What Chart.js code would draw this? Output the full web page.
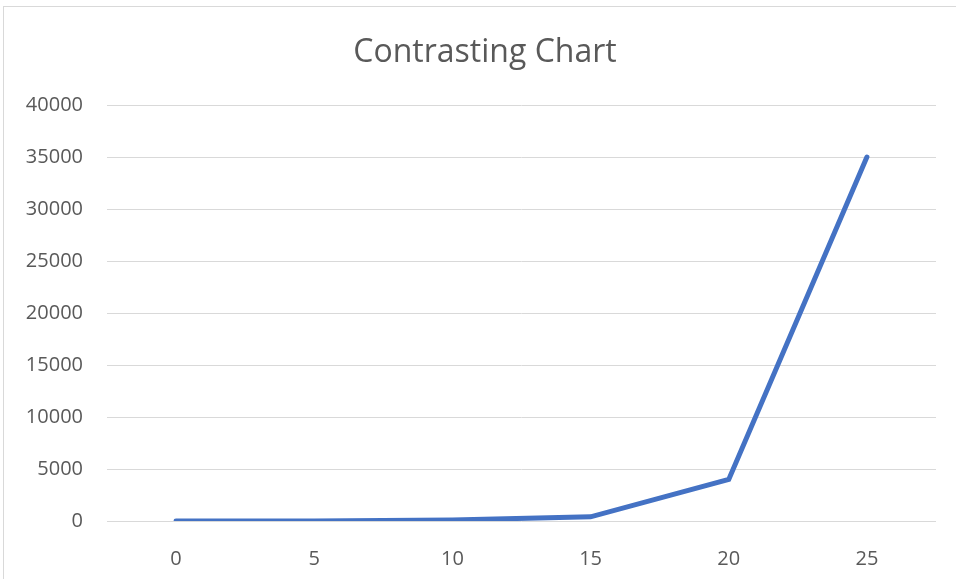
<!DOCTYPE html>
<html>
<head>
<meta charset="utf-8">
<script src="https://cdn.jsdelivr.net/npm/chart.js@4.4.1/dist/chart.umd.min.js"></script>
<style>
  html, body { margin: 0; padding: 0; background: #fff; }
  body { width: 956px; height: 579px; position: relative; overflow: hidden; }
  #frame { position: absolute; left: 3px; top: 6px; width: 960px; height: 580px; border: 1px solid #d9d9d9; box-sizing: border-box; }
  #c { position: absolute; left: 0; top: 0; }
</style>
</head>
<body>
<div id="frame"></div>
<canvas id="c" width="956" height="579"></canvas>
<script>
const categories = ["0", "5", "10", "15", "20", "25"];
const seriesValues = [0, 10, 100, 400, 4000, 35000];
const yTickValues = [0, 5000, 10000, 15000, 20000, 25000, 30000, 35000, 40000];
const chartTitle = "Contrasting Chart";

const FONT = "'Open Sans', 'Noto Sans', sans-serif";
const TEXT = "#595959";

new Chart(document.getElementById('c'), {
  type: 'line',
  data: {
    labels: categories,
    datasets: [{
      data: seriesValues,
      borderColor: '#4472C4',
      backgroundColor: '#4472C4',
      borderWidth: 5,
      pointRadius: 0,
      tension: 0,
      borderCapStyle: 'round',
      borderJoinStyle: 'miter'
    }]
  },
  options: {
    responsive: false,
    animation: false,
    devicePixelRatio: 1,
    layout: { padding: { top: 0, right: 0, bottom: 0, left: 14 } },
    plugins: {
      legend: { display: false },
      tooltip: { enabled: false },
      title: {
        display: true,
        text: chartTitle,
        color: TEXT,
        font: { family: FONT, size: 32, weight: 'normal' },
        padding: { top: 34, bottom: 32.6 }
      }
    },
    scales: {
      x: {
        offset: true,
        grid: { display: false },
        border: { display: false },
        ticks: { color: TEXT, font: { family: FONT, size: 20 }, padding: 18, maxRotation: 0 },
        afterFit(axis) { axis.height = 58; }
      },
      y: {
        min: 0,
        max: 40000,
        afterBuildTicks(axis) { axis.ticks = yTickValues.map(v => ({ value: v })); },
        grid: { color: '#d9d9d9', lineWidth: 1, drawTicks: false },
        border: { display: false },
        ticks: { color: TEXT, font: { family: FONT, size: 20 }, padding: 24, callback: v => String(v) },
        afterFit(axis) { axis.width = 93; }
      },
      spacer: {
        type: 'linear',
        position: 'right',
        display: true,
        grid: { display: false, drawTicks: false },
        border: { display: false },
        ticks: { display: false },
        afterFit(axis) { axis.width = 20; }
      }
    }
  }
});
</script>
</body>
</html>
